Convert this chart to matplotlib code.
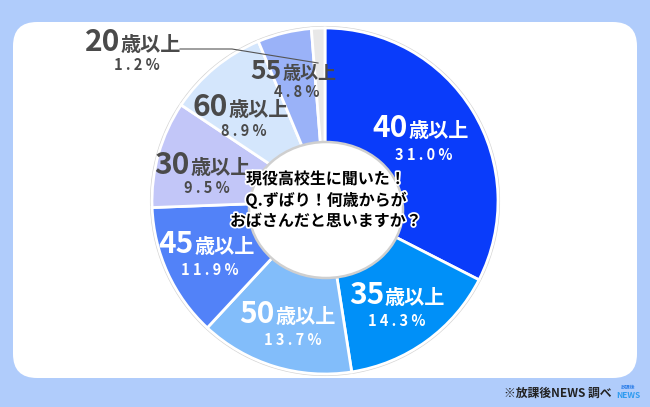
import matplotlib
matplotlib.use("Agg")
import matplotlib.pyplot as plt
from matplotlib.patches import FancyBboxPatch, Ellipse, Circle
import matplotlib.patheffects as pe

plt.rcParams['font.family'] = ['Noto Sans CJK JP', 'DejaVu Sans']

# data (clockwise from 12 o'clock)
ages = ['40', '35', '50', '45', '30', '60', '55', '20']
shares = [31.0, 14.3, 13.7, 11.9, 9.5, 8.9, 4.8, 1.2]
colors = ['#0a3cfa', '#0090f8', '#82bdfa', '#5282f8',
          '#c2c6f8', '#d4e6fc', '#9ab2f8', '#e8e8e8']
text_colors = ['white', 'white', 'white', 'white',
               '#4a4a4a', '#4a4a4a', '#4a4a4a', '#4a4a4a']
suffix = '歳以上'
question = ['現役高校生に聞いた！', 'Q.ずばり！何歳からが', 'おばさんだと思いますか？']
source = '※放課後NEWS 調べ'

# label layout in pixels: split x between number and suffix, baseline y of line 1,
# centre x and baseline y of percent line
label_pos = {
    '40': (408, 137, 424, 160),
    '35': (384, 304, 397, 326),
    '50': (275, 323, 293, 345),
    '45': (194, 253, 210, 275),
    '30': (190, 174, 207, 193),
    '60': (228, 116, 244, 136),
    '55': (282, 79, 297, 97),
    '20': (120, 51, 137, 70),
}

W, H = 650, 407


def Y(y):
    return H - y


fig = plt.figure(figsize=(6.5, 4.07), dpi=100)
fig.patch.set_facecolor('#b0ccfb')
ax = fig.add_axes([0, 0, 1, 1])
ax.set_facecolor('#b0ccfb')

# white rounded panel
panel = FancyBboxPatch((13, Y(378)), 624, 356,
                       boxstyle='round,pad=0,rounding_size=24',
                       facecolor='white', edgecolor='none', zorder=1)
ax.add_patch(panel)

cx, cy, r = 325, Y(201), 173
ax.add_patch(Circle((cx, cy), r + 1.2, facecolor='none',
                    edgecolor='#d4d4d4', lw=1.2, zorder=2))
ax.pie(shares, colors=colors, startangle=90, counterclock=False,
       center=(cx, cy), radius=r,
       wedgeprops=dict(edgecolor='white', linewidth=2, zorder=3))

# hole
ax.add_patch(Ellipse((326, Y(210)), 154, 136, facecolor='white',
                     edgecolor='#cfcfcf', lw=1.8, zorder=4))

for age, share, tc in zip(ages, shares, text_colors):
    sx, by, px, py = label_pos[age]
    small = age == '55'
    ax.text(sx, Y(by), age, ha='right', va='baseline', color=tc,
            fontsize=19 if small else 21.5, fontweight='bold', zorder=6)
    ax.text(sx + 1, Y(by), suffix, ha='left', va='baseline', color=tc,
            fontsize=13 if small else 14.5, fontweight='bold', zorder=6)
    ax.text(px, Y(py), ' '.join(f'{share:.1f}%'), ha='center', va='baseline',
            color=tc, fontsize=10.5, fontweight='bold', zorder=6)

# leader line for the 1.2% slice
ax.plot([180, 232, 318], [Y(49), Y(49), Y(63)], color='#555555', lw=0.8, zorder=5)

for i, line in enumerate(question):
    ax.text(326, Y(179 + 21 * i), line, ha='center', va='center',
            fontsize=11.5, fontweight='bold', color='black', zorder=7,
            path_effects=[pe.withStroke(linewidth=2.5, foreground='white')])

ax.text(611, Y(393), source, ha='right', va='center', fontsize=8.5,
        fontweight='bold', color='#222222', zorder=7)
ax.text(628, Y(387), '放課後', ha='center', va='center', fontsize=3.5,
        color='#2f7fe8', fontweight='bold', zorder=7)
ax.text(628, Y(396), 'NEWS', ha='center', va='center', fontsize=6,
        color='#2f9cf0', fontweight='bold', zorder=7)

ax.set_xlim(0, W)
ax.set_ylim(0, H)
ax.set_aspect('equal')
ax.axis('off')

fig.savefig('out.png', dpi=100, facecolor=fig.get_facecolor())
